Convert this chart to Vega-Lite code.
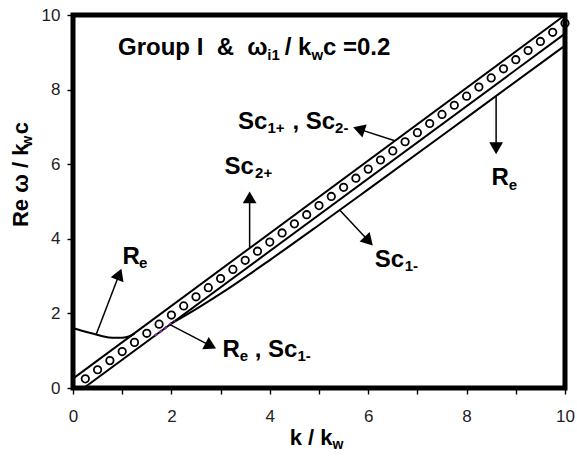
{
  "$schema": "https://vega.github.io/schema/vega-lite/v6.json",
  "width": 492,
  "height": 373,
  "autosize": {"type": "none"},
  "padding": {"left": 73, "top": 15, "right": 12, "bottom": 74},
  "background": "white",
  "config": {
    "view": {"stroke": "black", "strokeWidth": 5},
    "text": {"font": "Liberation Sans"},
    "axis": {"grid": false, "domain": false, "tickSize": 6, "tickWidth": 1.4, "tickColor": "black",
      "labelFlush": false, "labelFont": "Liberation Sans", "labelFontSize": 17, "labelColor": "#222"},
    "axisX": {"labelPadding": 14},
    "axisY": {"labelPadding": 7}
  },
  "datasets": {
    "curves": [
      {"k": 0, "v": 0.25, "series": "L1"},
      {"k": 10, "v": 10.0, "series": "L1"},
      {"k": 0.22, "v": 0, "series": "L2"},
      {"k": 10, "v": 9.5, "series": "L2"},
      {"k": 2.0, "v": 1.73, "series": "L3"},
      {"k": 2.5, "v": 2.115, "series": "L3"},
      {"k": 3.0, "v": 2.53, "series": "L3"},
      {"k": 4.0, "v": 3.43, "series": "L3"},
      {"k": 5.0, "v": 4.37, "series": "L3"},
      {"k": 6.0, "v": 5.325, "series": "L3"},
      {"k": 8.0, "v": 7.25, "series": "L3"},
      {"k": 10.0, "v": 9.18, "series": "L3"},
      {"k": 0, "v": 1.61, "series": "Re"},
      {"k": 0.2, "v": 1.53, "series": "Re"},
      {"k": 0.4, "v": 1.46, "series": "Re"},
      {"k": 0.6, "v": 1.39, "series": "Re"},
      {"k": 0.8, "v": 1.35, "series": "Re"},
      {"k": 1.0, "v": 1.35, "series": "Re"},
      {"k": 1.15, "v": 1.39, "series": "Re"},
      {"k": 1.25, "v": 1.46, "series": "Re"}
    ],
    "dashed": [
      {"k": 1.66, "v": 1.40},
      {"k": 2.07, "v": 1.80}
    ],
    "circles": [
      {"k": 0.25, "v": 0.245}, {"k": 0.5, "v": 0.489}, {"k": 0.75, "v": 0.734}, {"k": 1.0, "v": 0.978},
      {"k": 1.25, "v": 1.223}, {"k": 1.5, "v": 1.467}, {"k": 1.75, "v": 1.712}, {"k": 2.0, "v": 1.956},
      {"k": 2.25, "v": 2.201}, {"k": 2.5, "v": 2.445}, {"k": 2.75, "v": 2.69}, {"k": 3.0, "v": 2.934},
      {"k": 3.25, "v": 3.179}, {"k": 3.5, "v": 3.423}, {"k": 3.75, "v": 3.668}, {"k": 4.0, "v": 3.912},
      {"k": 4.25, "v": 4.157}, {"k": 4.5, "v": 4.401}, {"k": 4.75, "v": 4.646}, {"k": 5.0, "v": 4.89},
      {"k": 5.25, "v": 5.135}, {"k": 5.5, "v": 5.379}, {"k": 5.75, "v": 5.624}, {"k": 6.0, "v": 5.868},
      {"k": 6.25, "v": 6.113}, {"k": 6.5, "v": 6.357}, {"k": 6.75, "v": 6.602}, {"k": 7.0, "v": 6.846},
      {"k": 7.25, "v": 7.091}, {"k": 7.5, "v": 7.335}, {"k": 7.75, "v": 7.58}, {"k": 8.0, "v": 7.824},
      {"k": 8.25, "v": 8.069}, {"k": 8.5, "v": 8.313}, {"k": 8.75, "v": 8.558}, {"k": 9.0, "v": 8.802},
      {"k": 9.25, "v": 9.047}, {"k": 9.5, "v": 9.291}, {"k": 9.75, "v": 9.536}, {"k": 10.0, "v": 9.78}
    ],
    "arrows": [
      {"x": 3.59, "y": 3.75, "x2": 3.59, "y2": 5.11},
      {"x": 6.54, "y": 6.63, "x2": 5.81, "y2": 6.94},
      {"x": 8.6, "y": 7.82, "x2": 8.6, "y2": 6.43},
      {"x": 5.42, "y": 4.77, "x2": 6.01, "y2": 3.94},
      {"x": 0.475, "y": 1.45, "x2": 0.94, "y2": 3.05},
      {"x": 1.97, "y": 1.70, "x2": 2.80, "y2": 1.13}
    ],
    "labels": [
      {"x": 0.915, "y": 8.92, "text": "Group I\u00a0\u00a0&\u00a0\u00a0ω"},
      {"x": 4.303, "y": 8.92, "text": "/ k"},
      {"x": 5.081, "y": 8.92, "text": "c =0.2"},
      {"x": 3.08, "y": 5.75, "text": "Sc"},
      {"x": 3.354, "y": 6.955, "text": "Sc"},
      {"x": 4.459, "y": 6.955, "text": ",\u00a0Sc"},
      {"x": 1.004, "y": 3.335, "text": "R"},
      {"x": 3.037, "y": 0.83, "text": "R"},
      {"x": 3.693, "y": 0.83, "text": ",\u00a0Sc"},
      {"x": 6.132, "y": 3.245, "text": "Sc"},
      {"x": 8.504, "y": 5.434, "text": "R"}
    ],
    "subs": [
      {"x": 3.95, "y": 8.785, "text": "i1"},
      {"x": 4.846, "y": 8.785, "text": "w"},
      {"x": 3.70, "y": 5.62, "text": "2+"},
      {"x": 3.951, "y": 6.83, "text": "1+"},
      {"x": 5.327, "y": 6.83, "text": "2-"},
      {"x": 1.34, "y": 3.215, "text": "e"},
      {"x": 3.388, "y": 0.716, "text": "e"},
      {"x": 4.561, "y": 0.716, "text": "1-"},
      {"x": 6.742, "y": 3.14, "text": "1-"},
      {"x": 8.856, "y": 5.31, "text": "e"}
    ],
    "xtitle": [{"x": 4.404, "y": -1.517, "text": "k / k"}],
    "xtitlesub": [{"x": 5.274, "y": -1.625, "text": "w"}],
    "ytitle": [
      {"x": -0.92, "y": 4.316, "text": "Re ω / k"},
      {"x": -0.92, "y": 6.80, "text": "c"}
    ],
    "ytitlesub": [{"x": -0.84, "y": 6.47, "text": "w"}]
  },
  "layer": [
    {
      "data": {"name": "curves"},
      "mark": {"type": "line", "color": "black", "strokeWidth": 2, "interpolate": "monotone"},
      "encoding": {
        "x": {"field": "k", "type": "quantitative", "scale": {"domain": [0, 10], "nice": false, "zero": false},
          "axis": {"title": null, "values": [0, 0.5, 1, 1.5, 2, 2.5, 3, 3.5, 4, 4.5, 5, 5.5, 6, 6.5, 7, 7.5, 8, 8.5, 9, 9.5, 10], "labelExpr": "datum.value % 2 === 0 ? datum.label : ''"}},
        "y": {"field": "v", "type": "quantitative", "scale": {"domain": [0, 10], "nice": false, "zero": false},
          "axis": {"title": null, "values": [0, 0.5, 1, 1.5, 2, 2.5, 3, 3.5, 4, 4.5, 5, 5.5, 6, 6.5, 7, 7.5, 8, 8.5, 9, 9.5, 10], "labelExpr": "datum.value % 2 === 0 ? datum.label : ''"}},
        "detail": {"field": "series"}
      }
    },
    {
      "data": {"name": "dashed"},
      "mark": {"type": "line", "color": "#7d2a90", "strokeWidth": 2.5, "strokeDash": [3, 3]},
      "encoding": {
        "x": {"field": "k", "type": "quantitative", "scale": {"domain": [0, 10], "nice": false, "zero": false}, "axis": {"title": null}},
        "y": {"field": "v", "type": "quantitative", "scale": {"domain": [0, 10], "nice": false, "zero": false}, "axis": {"title": null}}
      }
    },
    {
      "data": {"name": "circles"},
      "mark": {"type": "point", "shape": "circle", "filled": false, "stroke": "black", "strokeWidth": 1.8, "size": 55, "opacity": 1},
      "encoding": {
        "x": {"field": "k", "type": "quantitative", "scale": {"domain": [0, 10], "nice": false, "zero": false}, "axis": {"title": null}},
        "y": {"field": "v", "type": "quantitative", "scale": {"domain": [0, 10], "nice": false, "zero": false}, "axis": {"title": null}}
      }
    },
    {
      "data": {"name": "arrows"},
      "mark": {"type": "rule", "color": "black", "strokeWidth": 1.5},
      "encoding": {
        "x": {"field": "x", "type": "quantitative", "scale": {"domain": [0, 10], "nice": false, "zero": false}, "axis": {"title": null}},
        "y": {"field": "y", "type": "quantitative", "scale": {"domain": [0, 10], "nice": false, "zero": false}, "axis": {"title": null}},
        "x2": {"field": "x2"},
        "y2": {"field": "y2"}
      }
    },
    {
      "data": {"name": "arrows"},
      "transform": [{"calculate": "atan2((datum.x2 - datum.x) * 49.2, (datum.y2 - datum.y) * 37.3) * 180 / PI", "as": "angle"}],
      "mark": {"type": "point", "shape": "triangle-up", "filled": true, "color": "black", "size": 190, "opacity": 1},
      "encoding": {
        "x": {"field": "x2", "type": "quantitative", "scale": {"domain": [0, 10], "nice": false, "zero": false}, "axis": {"title": null}},
        "y": {"field": "y2", "type": "quantitative", "scale": {"domain": [0, 10], "nice": false, "zero": false}, "axis": {"title": null}},
        "angle": {"field": "angle", "type": "quantitative", "scale": null}
      }
    },
    {
      "data": {"name": "labels"},
      "mark": {"type": "text", "font": "Liberation Sans", "fontWeight": "bold", "fontSize": 24, "align": "left", "baseline": "alphabetic", "color": "black"},
      "encoding": {
        "x": {"field": "x", "type": "quantitative", "scale": {"domain": [0, 10], "nice": false, "zero": false}, "axis": {"title": null}},
        "y": {"field": "y", "type": "quantitative", "scale": {"domain": [0, 10], "nice": false, "zero": false}, "axis": {"title": null}},
        "text": {"field": "text"}
      }
    },
    {
      "data": {"name": "subs"},
      "mark": {"type": "text", "font": "Liberation Sans", "fontWeight": "bold", "fontSize": 15, "align": "left", "baseline": "alphabetic", "color": "black"},
      "encoding": {
        "x": {"field": "x", "type": "quantitative", "scale": {"domain": [0, 10], "nice": false, "zero": false}, "axis": {"title": null}},
        "y": {"field": "y", "type": "quantitative", "scale": {"domain": [0, 10], "nice": false, "zero": false}, "axis": {"title": null}},
        "text": {"field": "text"}
      }
    },
    {
      "data": {"name": "xtitle"},
      "mark": {"type": "text", "font": "Liberation Sans", "fontWeight": "bold", "fontSize": 22, "align": "left", "baseline": "alphabetic", "color": "black"},
      "encoding": {
        "x": {"field": "x", "type": "quantitative", "scale": {"domain": [0, 10], "nice": false, "zero": false}, "axis": {"title": null}},
        "y": {"field": "y", "type": "quantitative", "scale": {"domain": [0, 10], "nice": false, "zero": false}, "axis": {"title": null}},
        "text": {"field": "text"}
      }
    },
    {
      "data": {"name": "xtitlesub"},
      "mark": {"type": "text", "font": "Liberation Sans", "fontWeight": "bold", "fontSize": 14, "align": "left", "baseline": "alphabetic", "color": "black"},
      "encoding": {
        "x": {"field": "x", "type": "quantitative", "scale": {"domain": [0, 10], "nice": false, "zero": false}, "axis": {"title": null}},
        "y": {"field": "y", "type": "quantitative", "scale": {"domain": [0, 10], "nice": false, "zero": false}, "axis": {"title": null}},
        "text": {"field": "text"}
      }
    },
    {
      "data": {"name": "ytitle"},
      "mark": {"type": "text", "font": "Liberation Sans", "fontWeight": "bold", "fontSize": 22, "align": "left", "baseline": "alphabetic", "angle": 270, "color": "black"},
      "encoding": {
        "x": {"field": "x", "type": "quantitative", "scale": {"domain": [0, 10], "nice": false, "zero": false}, "axis": {"title": null}},
        "y": {"field": "y", "type": "quantitative", "scale": {"domain": [0, 10], "nice": false, "zero": false}, "axis": {"title": null}},
        "text": {"field": "text"}
      }
    },
    {
      "data": {"name": "ytitlesub"},
      "mark": {"type": "text", "font": "Liberation Sans", "fontWeight": "bold", "fontSize": 14, "align": "left", "baseline": "alphabetic", "angle": 270, "color": "black"},
      "encoding": {
        "x": {"field": "x", "type": "quantitative", "scale": {"domain": [0, 10], "nice": false, "zero": false}, "axis": {"title": null}},
        "y": {"field": "y", "type": "quantitative", "scale": {"domain": [0, 10], "nice": false, "zero": false}, "axis": {"title": null}},
        "text": {"field": "text"}
      }
    }
  ]
}
